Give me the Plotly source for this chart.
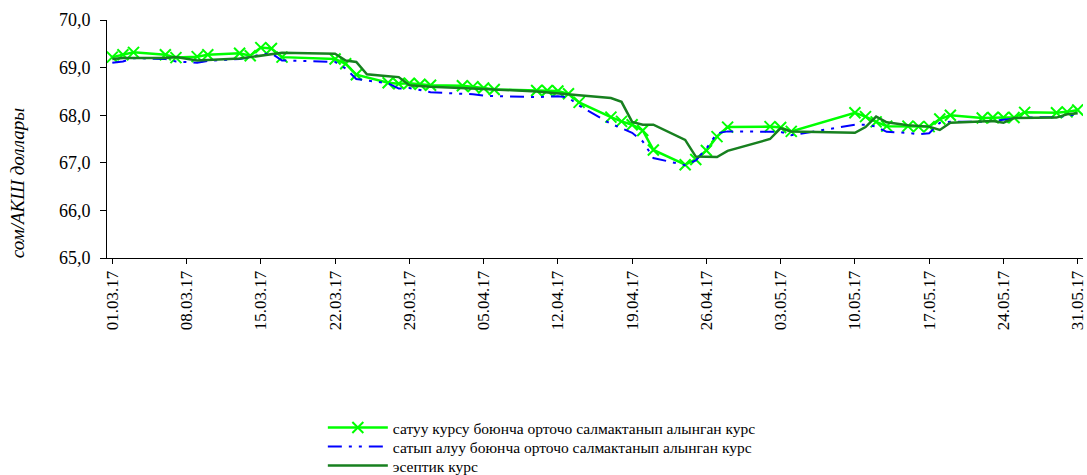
import plotly.graph_objects as go
from datetime import date, timedelta

# ---- data ----
trade_dates = [
    "2017-03-01", "2017-03-02", "2017-03-03", "2017-03-06", "2017-03-07", "2017-03-09", "2017-03-10",
    "2017-03-13", "2017-03-14", "2017-03-15", "2017-03-16", "2017-03-17", "2017-03-22", "2017-03-23",
    "2017-03-24", "2017-03-27", "2017-03-28", "2017-03-29", "2017-03-30", "2017-03-31",
    "2017-04-03", "2017-04-04", "2017-04-05", "2017-04-06", "2017-04-10", "2017-04-11", "2017-04-12",
    "2017-04-13", "2017-04-14", "2017-04-17", "2017-04-18", "2017-04-19", "2017-04-20", "2017-04-21",
    "2017-04-24", "2017-04-25", "2017-04-26", "2017-04-27", "2017-04-28",
    "2017-05-02", "2017-05-03", "2017-05-04", "2017-05-10", "2017-05-11", "2017-05-12", "2017-05-13",
    "2017-05-15", "2017-05-16", "2017-05-17", "2017-05-18", "2017-05-19", "2017-05-22", "2017-05-23",
    "2017-05-24", "2017-05-25", "2017-05-26", "2017-05-29", "2017-05-30", "2017-05-31",
]
sell_rate = [
    69.22, 69.27, 69.32, 69.27, 69.21, 69.23, 69.27,
    69.30, 69.25, 69.42, 69.40, 69.22, 69.18, 69.08,
    68.85, 68.68, 68.66, 68.67, 68.65, 68.63,
    68.62, 68.60, 68.57, 68.54, 68.52, 68.52, 68.51,
    68.45, 68.27, 67.96, 67.87, 67.80, 67.68, 67.27,
    66.96, 67.07, 67.26, 67.55, 67.75,
    67.76, 67.74, 67.66, 68.05, 67.97, 67.86, 67.77,
    67.77, 67.76, 67.76, 67.92, 68.00, 67.94, 67.95,
    67.95, 67.95, 68.06, 68.05, 68.07, 68.11,
]
buy_rate = [
    69.10, 69.13, 69.20, 69.18, 69.13, 69.10, 69.14,
    69.18, 69.22, 69.28, 69.30, 69.15, 69.12, 68.98,
    68.76, 68.67, 68.56, 68.57, 68.53, 68.48,
    68.45, 68.44, 68.41, 68.40, 68.38, 68.39, 68.40,
    68.37, 68.20, 67.82, 67.72, 67.63, 67.45, 67.10,
    66.95, 67.05, 67.30, 67.62, 67.66,
    67.65, 67.65, 67.58, 67.80, 67.80, 67.76, 67.65,
    67.63, 67.60, 67.62, 67.84, 67.86, 67.86, 67.88,
    67.90, 67.93, 67.95, 67.96, 67.99, 68.02,
]
official_dates = [
    "2017-03-01", "2017-03-02", "2017-03-06", "2017-03-07", "2017-03-09", "2017-03-10", "2017-03-13",
    "2017-03-14", "2017-03-16", "2017-03-17", "2017-03-22", "2017-03-23", "2017-03-24", "2017-03-25",
    "2017-03-27", "2017-03-28", "2017-03-29", "2017-03-31", "2017-04-05", "2017-04-10", "2017-04-14",
    "2017-04-17", "2017-04-18", "2017-04-19", "2017-04-20", "2017-04-21", "2017-04-24", "2017-04-25",
    "2017-04-27", "2017-04-28", "2017-05-02", "2017-05-03", "2017-05-04", "2017-05-10", "2017-05-11",
    "2017-05-12", "2017-05-13", "2017-05-15", "2017-05-17", "2017-05-18", "2017-05-19", "2017-05-22",
    "2017-05-23", "2017-05-24", "2017-05-25", "2017-05-29", "2017-05-30", "2017-05-31",
]
official_rate = [
    69.18, 69.20, 69.20, 69.22, 69.15, 69.16, 69.19,
    69.22, 69.29, 69.31, 69.29, 69.15, 69.12, 68.86,
    68.82, 68.80, 68.63, 68.60, 68.55, 68.50, 68.42,
    68.36, 68.28, 67.86, 67.80, 67.80, 67.48, 67.13,
    67.12, 67.25, 67.50, 67.73, 67.66, 67.63, 67.75,
    67.97, 67.85, 67.79, 67.76, 67.69, 67.84, 67.87,
    67.88, 67.84, 67.94, 67.95, 68.02, 68.04,
]
series_names = [
    "сатуу курсу боюнча орточо салмактанып алынган курс",
    "сатып алуу боюнча орточо салмактанып алынган курс",
    "эсептик курс",
]
y_title = "сом/АКШ доллары"

tick_dates = [date(2017, 3, 1) + timedelta(days=7 * i) for i in range(14)]
tick_vals = [d.isoformat() for d in tick_dates]
tick_text = [d.strftime("%d.%m.%y") for d in tick_dates]

FONT = "Liberation Serif, Times New Roman, serif"
H = 475

fig = go.Figure()
fig.add_trace(go.Scatter(
    x=trade_dates, y=sell_rate, name=series_names[0], mode="lines+markers",
    line=dict(color="#00FF00", width=2.5),
    marker=dict(symbol="x-thin", size=11, line=dict(color="#00FF00", width=2)),
    legend="legend",
))
fig.add_trace(go.Scatter(
    x=trade_dates, y=buy_rate, name=series_names[1], mode="lines",
    line=dict(color="#0000FF", width=2, dash="14px,7px,3px,7px,3px,7px"),
    legend="legend2",
))
fig.add_trace(go.Scatter(
    x=official_dates, y=official_rate, name=series_names[2], mode="lines",
    line=dict(color="#17801F", width=2.5),
    legend="legend3",
))


def legend_row(y_px):
    return dict(
        orientation="v", xref="container", yref="container",
        x=0.297, xanchor="left", y=1 - y_px / H, yanchor="middle",
        font=dict(family=FONT, size=15.5, color="black"),
        itemwidth=60, bgcolor="rgba(0,0,0,0)",
    )


fig.update_layout(
    width=1087, height=H,
    margin=dict(l=107, r=4, t=20, b=217, autoexpand=False),
    paper_bgcolor="white", plot_bgcolor="white",
    separators=", ",
    font=dict(family=FONT, color="black", size=16),
    showlegend=True,
    legend=legend_row(428),
    legend2=legend_row(447),
    legend3=legend_row(466),
    xaxis=dict(
        type="date",
        range=["2017-02-28 12:00", "2017-05-31 12:00"],
        tickmode="array", tickvals=tick_vals, ticktext=tick_text,
        tickangle=-90, tickfont=dict(family=FONT, size=17),
        ticklabeloverflow="allow",
        showline=True, linecolor="black", linewidth=1,
        ticks="outside", ticklen=5, tickcolor="black",
        showgrid=False, zeroline=False, automargin=False,
    ),
    yaxis=dict(
        range=[65, 70], dtick=1, tickformat=".1f",
        tickfont=dict(family=FONT, size=18),
        ticklabelstandoff=6,
        showline=True, linecolor="black", linewidth=1,
        ticks="outside", ticklen=6, tickcolor="black",
        showgrid=False, zeroline=False, automargin=False,
    ),
    annotations=[dict(
        text=f"<i>{y_title}</i>", xref="paper", yref="paper",
        x=-0.092, y=(258 - 183) / 238, xanchor="center", yanchor="middle",
        textangle=-90, showarrow=False,
        font=dict(family=FONT, size=19, color="black"),
    )],
)

fig.write_html("out.html", config={"displayModeBar": False},
               post_script="document.body.style.margin='0';")
